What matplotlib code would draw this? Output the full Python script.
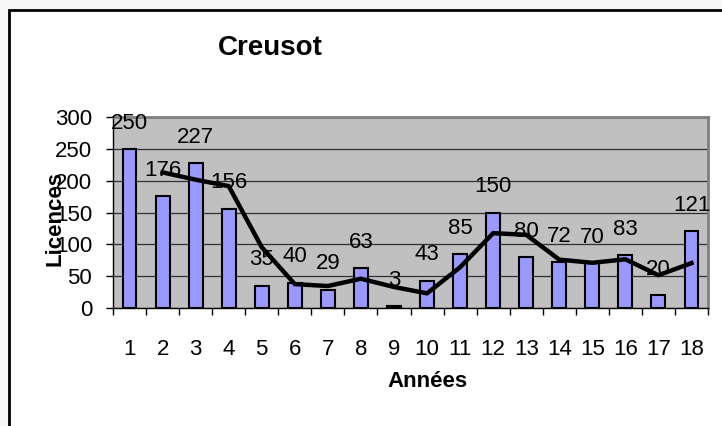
import matplotlib
matplotlib.use("Agg")
import matplotlib.pyplot as plt
from matplotlib.patches import Rectangle

plt.rcParams['font.family'] = ['Liberation Sans', 'DejaVu Sans']

years = list(range(1, 19))
licences = [250, 176, 227, 156, 35, 40, 29, 63, 3, 43, 85, 150, 80, 72, 70, 83, 20, 121]
# moyenne mobile sur 2 periodes (courbe noire)
trend_x = list(range(2, 19))
trend_y = [213, 201.5, 191.5, 95.5, 37.5, 34.5, 46, 33, 23, 64, 117.5, 115, 76, 71, 76.5, 51.5, 70.5]

W, H = 722, 426
fig = plt.figure(figsize=(W / 100, H / 100), dpi=100, facecolor='#f6f6f6')

# cadre du graphique (depasse a droite et en bas)
fig.patches.append(Rectangle((9 / W, -0.05), 1.0, 1 - 10 / H + 0.05,
                             transform=fig.transFigure, facecolor='white',
                             edgecolor='black', lw=2, zorder=-5))

ax = fig.add_axes([113 / W, 1 - 308 / H, (708 - 113) / W, (308 - 117) / H])
ax.set_facecolor('#c0c0c0')

ax.bar(years, licences, width=0.42, color='#9999ff', edgecolor='black', lw=1.5, zorder=3)
ax.plot(trend_x, trend_y, color='black', lw=3.2, zorder=4, solid_joinstyle='round')

for x, v in zip(years, licences):
    ax.annotate(str(v), (x, v), xytext=(0, 11), textcoords='offset points',
                ha='center', va='bottom', fontsize=16, zorder=5)

ax.set_xlim(0.5, 18.5)
ax.set_ylim(0, 300)
ax.set_yticks(range(0, 301, 50))
ax.yaxis.grid(True, color='#303030', lw=0.9, zorder=1)
ax.set_axisbelow(True)

ax.set_xticks(years)
ax.set_xticklabels([str(y) for y in years])
ax.set_xticks([y + 0.5 for y in range(0, 19)], minor=True)
ax.tick_params(axis='x', which='major', length=0, pad=22, labelsize=16)
ax.tick_params(axis='x', which='minor', length=5, width=1, direction='out')
ax.tick_params(axis='y', length=5, width=1, pad=10, labelsize=16)

for s in ['top', 'right']:
    ax.spines[s].set_color('#808080')
    ax.spines[s].set_linewidth(2)
for s in ['left', 'bottom']:
    ax.spines[s].set_color('black')
    ax.spines[s].set_linewidth(1)

ax.set_xlabel('Années', fontsize=16, fontweight='bold')
ax.xaxis.set_label_coords(0.528, -0.33)
ax.set_ylabel('Licences', fontsize=16, fontweight='bold')
ax.yaxis.set_label_coords(-0.08, 0.47)

fig.text(270 / W, 1 - 48 / H, 'Creusot', fontsize=20, fontweight='bold',
         ha='center', va='center')

fig.savefig('out.png', dpi=100, facecolor=fig.get_facecolor())
